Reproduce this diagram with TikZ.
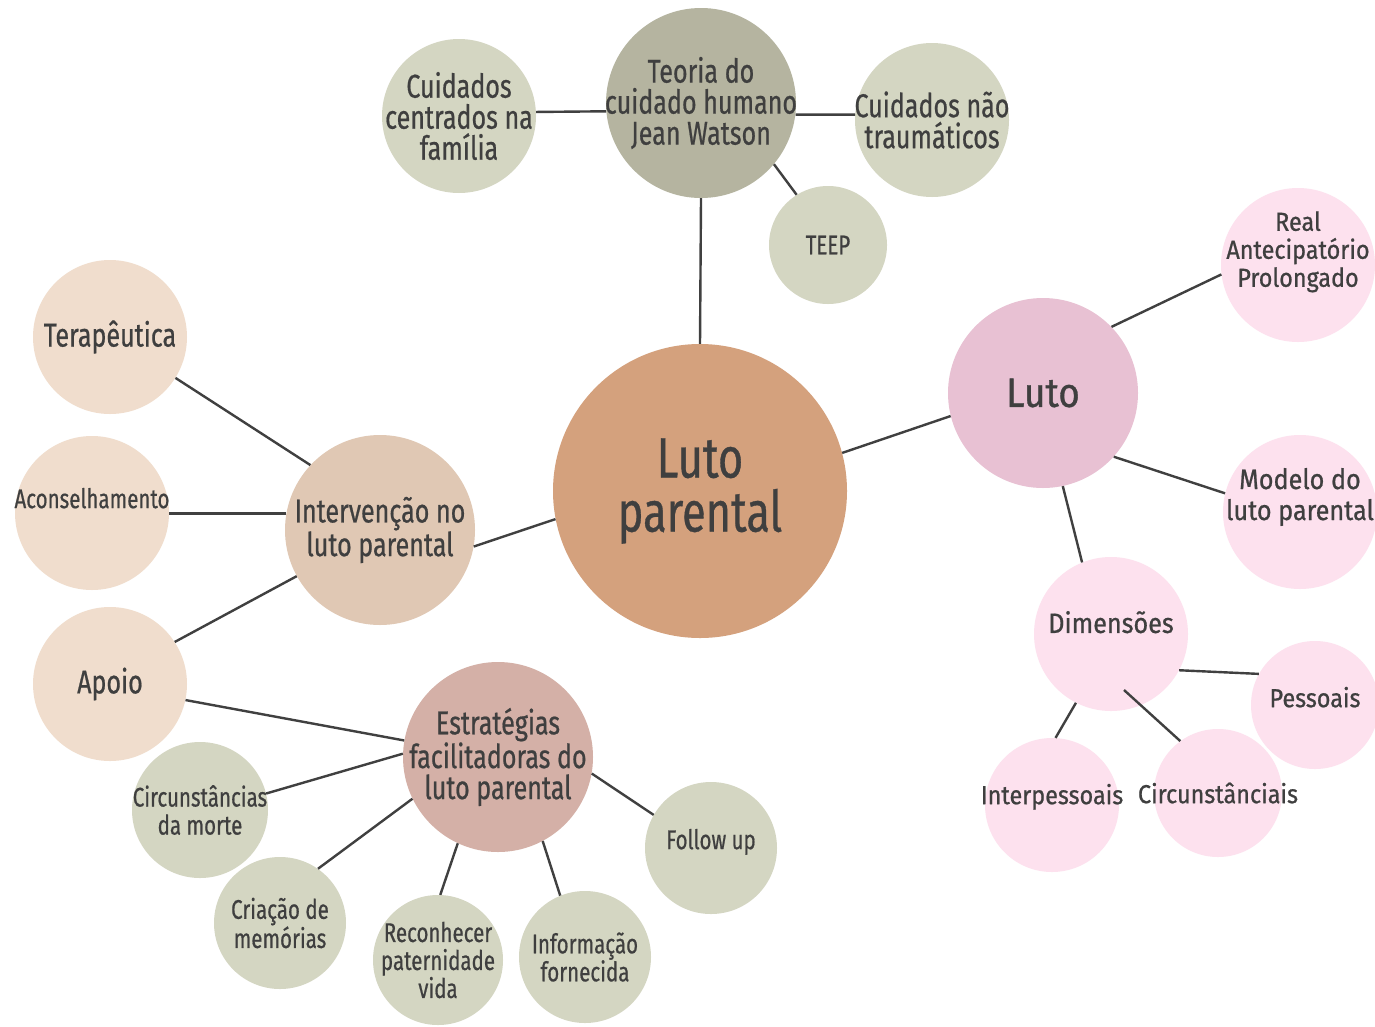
\documentclass[tikz,border=0pt]{standalone}
\usepackage{fontspec}
\setmainfont{Fira Sans}[FakeStretch=0.76, FakeBold=0.6]
\newfontfamily\rfont{Fira Sans}[FakeStretch=0.9, FakeBold=0.8]
\definecolor{txtgray}{HTML}{3F3F3F}
\definecolor{linkgray}{HTML}{404040}
\definecolor{cParental}{HTML}{D4A17D}
\definecolor{cTeoria}{HTML}{B5B4A0}
\definecolor{cOlive}{HTML}{D4D6C2}
\definecolor{cLuto}{HTML}{E8C1D3}
\definecolor{cPink}{HTML}{FDE1EE}
\definecolor{cInterv}{HTML}{E0C8B4}
\definecolor{cPeach}{HTML}{F0DDCD}
\definecolor{cEstrat}{HTML}{D4B0A7}

\begin{document}
\begin{tikzpicture}[x=1pt, y=-1pt,
        bubble/.style={circle, inner sep=-40pt, align=center, text=txtgray},
        big/.style={font=\fontsize{33}{31}\selectfont},
        small/.style={font=\fontsize{27}{28}\selectfont},
        pinkfont/.style={font=\rfont\fontsize{26}{28}\selectfont},
        link/.style={draw=linkgray, line width=2.4pt}]
    \useasboundingbox (0,0) rectangle (1375,1026);
    \fill[white] (0,0) rectangle (1375,1026);

    \node[bubble, fill=cParental, minimum size=294pt, font=\fontsize{57}{54}\selectfont] (parental) at (700,491) {Luto\\parental};

    \node[bubble, fill=cTeoria, minimum size=190pt, big] (teoria) at (701,103) {Teoria do\\cuidado humano\\Jean Watson};
    \node[bubble, fill=cOlive, minimum size=154pt, big] (familia) at (459,116) {Cuidados\\centrados na\\família};
    \node[bubble, fill=cOlive, minimum size=154pt, big] (naotraum) at (932,120) {Cuidados não\\traumáticos};
    \node[bubble, fill=cOlive, minimum size=118pt, small] (teep) at (828,245) {TEEP};

    \node[bubble, fill=cLuto, minimum size=190pt, font=\rfont\fontsize{41}{40}\selectfont] (luto) at (1043,393) {Luto};
    \node[bubble, fill=cPink, minimum size=154pt, pinkfont, text depth=32pt] (real) at (1298,265) {Real\\Antecipatório\\Prolongado};
    \node[bubble, fill=cPink, minimum size=154pt, font=\rfont\fontsize{28}{31}\selectfont, text depth=36pt] (modelo) at (1300,512) {Modelo do\\luto parental};
    \node[bubble, fill=cPink, minimum size=154pt, font=\rfont\fontsize{28}{31}\selectfont, text depth=24pt] (dim) at (1111,634) {Dimensões};
    \node[bubble, fill=cPink, minimum size=128pt, pinkfont, text depth=16pt] (pessoais) at (1315,705) {Pessoais};
    \node[bubble, fill=cPink, minimum size=128pt, pinkfont] (circ) at (1218,793) {Circunstânciais};
    \node[bubble, fill=cPink, minimum size=134pt, pinkfont, text depth=22pt] (interp) at (1052,805) {Interpessoais};
    \coordinate (dimtail) at (1124,690);

    \node[bubble, fill=cInterv, minimum size=190pt, big] (interv) at (380,530) {Intervenção no\\luto parental};
    \node[bubble, fill=cPeach, minimum size=154pt, big] (terap) at (110,337) {Terapêutica};
    \node[bubble, fill=cPeach, minimum size=154pt, small, text depth=30pt] (aconselh) at (92,513) {Aconselhamento};
    \node[bubble, fill=cPeach, minimum size=154pt, big] (apoio) at (110,684) {Apoio};

    \node[bubble, fill=cEstrat, minimum size=190pt, big] (estrat) at (498,757) {Estratégias\\facilitadoras do\\luto parental};
    \node[bubble, fill=cOlive, minimum size=136pt, small] (circmorte) at (200,810) {Circunstâncias\\da morte};
    \node[bubble, fill=cOlive, minimum size=132pt, small] (criacao) at (280,923) {Criação de\\memórias};
    \node[bubble, fill=cOlive, minimum size=130pt, small] (reconh) at (438,960) {Reconhecer\\paternidade\\vida};
    \node[bubble, fill=cOlive, minimum size=132pt, small] (inform) at (585,957) {Informação\\fornecida};
    \node[bubble, fill=cOlive, minimum size=132pt, small, text depth=18pt] (follow) at (711,848) {Follow up};

    \draw[link] (teoria.185) -- (familia.3);
    \draw[link] (teoria.-7) -- (naotraum.176);
    \draw[link] (teoria.-40) -- (teep.122);
    \draw[link] (teoria.south) -- (parental.north);
    \draw[link] (parental.15) -- (luto.194);
    \draw[link] (luto.44) -- (real.187);
    \draw[link] (luto.-42) -- (modelo.166);
    \draw[link] (luto.-78) -- (dim.112);
    \draw[link] (dim.-28) -- (pessoais.151);
    \draw[link] (dimtail) -- (circ.126);
    \draw[link] (dim.-117) -- (interp.87);
    \draw[link] (parental.191) -- (interv.-10);
    \draw[link] (interv.137) -- (terap.-32);
    \draw[link] (interv.170) -- (aconselh.east |- interv.170);
    \draw[link] (interv.209) -- (apoio.33);
    \draw[link] (apoio.-12) -- (estrat.170);
    \draw[link] (estrat.178) -- (circmorte.14);
    \draw[link] (estrat.206) -- (criacao.55);
    \draw[link] (estrat.245) -- (reconh.88);
    \draw[link] (estrat.-62) -- (inform.112);
    \draw[link] (estrat.-10) -- (follow.150);
\end{tikzpicture}
\end{document}
